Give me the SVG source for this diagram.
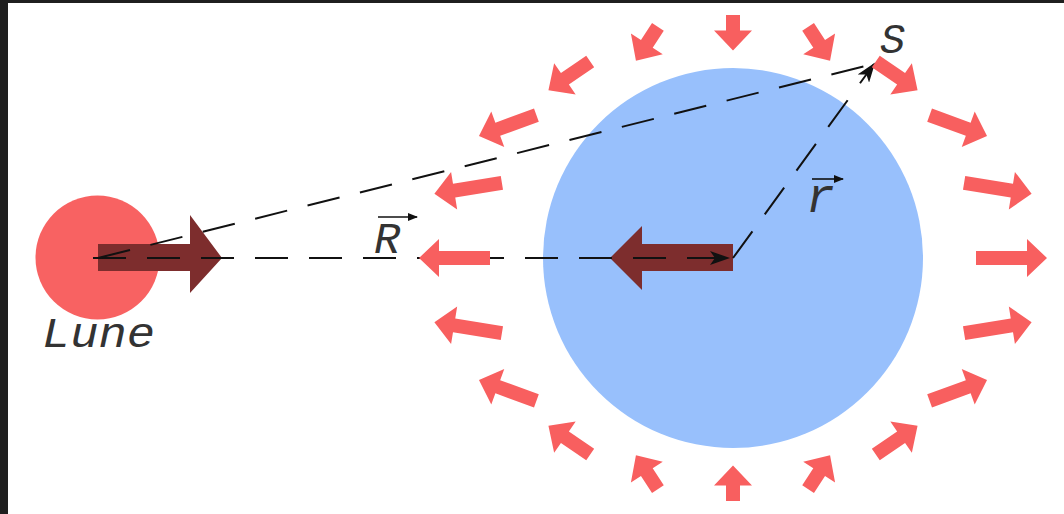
<svg xmlns="http://www.w3.org/2000/svg" width="1064" height="514" viewBox="0 0 1064 514">
<style>
.tide{fill:#F85F5F}
.big{fill:#7D2D2D}
.dash{fill:none;stroke:#111;stroke-width:2;stroke-dasharray:33 21}
.vec{fill:none;stroke:#111;stroke-width:1.6}
.lbl{font-family:"Liberation Mono",monospace;font-style:italic;fill:#333}
</style>
<defs>
<marker id="tip" markerUnits="userSpaceOnUse" markerWidth="20" markerHeight="14" refX="18" refY="7" orient="auto" viewBox="0 0 20 14">
<path d="M0,0 L20,7 L0,14 L5,7 Z" fill="#111"/>
</marker>
<marker id="vtip" markerUnits="userSpaceOnUse" markerWidth="10" markerHeight="8" refX="9" refY="4" orient="auto" viewBox="0 0 10 8">
<path d="M0,0 L10,4 L0,8 Z" fill="#111"/>
</marker>
</defs>
<rect x="0" y="0" width="1064" height="514" fill="#1F1F1F"/>
<rect x="8" y="3" width="1056" height="511" fill="#FFFFFF"/>

<g id="earth"><circle cx="733" cy="258" r="190" fill="#98C0FC"/></g>
<g id="moon"><circle cx="97.5" cy="257.5" r="62" fill="#F86262"/></g>

<g id="force-arrows" class="big">
<path id="moon-force" d="M98,244 H190 V215 L222,258 L190,293 V271 H98 Z"/>
<path id="earth-force" d="M733,244 H642 V226 L610,258 L642,290 V271 H733 Z"/>
</g>

<g id="connectors">
<line class="dash" x1="93" y1="258" x2="728" y2="258" marker-end="url(#tip)"/>
<line class="dash" x1="98" y1="258" x2="873" y2="64"/>
<line class="dash" x1="733" y1="258" x2="874" y2="64" marker-end="url(#tip)"/>
</g>

<g id="tidal-arrows" class="tide">
<path transform="translate(976,258) rotate(0)" d="M0,-7 H51 V-19 L71,0 L51,19 V7 H0 Z"/>
<path transform="translate(964.1,333.1) rotate(-9.23)" d="M0,-7 H48.4 V-19 L68.4,0 L48.4,19 V7 H0 Z"/>
<path transform="translate(929.6,400.8) rotate(-19.97)" d="M0,-7 H41.1 V-19 L61.1,0 L41.1,19 V7 H0 Z"/>
<path transform="translate(875.8,454.6) rotate(-34.54)" d="M0,-7 H30.7 V-19 L50.7,0 L30.7,19 V7 H0 Z"/>
<path transform="translate(808.1,489.1) rotate(-56.99)" d="M0,-7 H20.3 V-19 L40.3,0 L20.3,19 V7 H0 Z"/>
<path transform="translate(733,501) rotate(-90)" d="M0,-7 H15.5 V-19 L35.5,0 L15.5,19 V7 H0 Z"/>
<path transform="translate(657.9,489.1) rotate(-123.01)" d="M0,-7 H20.3 V-19 L40.3,0 L20.3,19 V7 H0 Z"/>
<path transform="translate(590.2,454.6) rotate(-145.46)" d="M0,-7 H30.7 V-19 L50.7,0 L30.7,19 V7 H0 Z"/>
<path transform="translate(536.4,400.8) rotate(-160.03)" d="M0,-7 H41.1 V-19 L61.1,0 L41.1,19 V7 H0 Z"/>
<path transform="translate(501.9,333.1) rotate(-170.77)" d="M0,-7 H48.4 V-19 L68.4,0 L48.4,19 V7 H0 Z"/>
<path transform="translate(490,258) rotate(180)" d="M0,-7 H51 V-19 L71,0 L51,19 V7 H0 Z"/>
<path transform="translate(501.9,182.9) rotate(170.77)" d="M0,-7 H48.4 V-19 L68.4,0 L48.4,19 V7 H0 Z"/>
<path transform="translate(536.4,115.2) rotate(160.03)" d="M0,-7 H41.1 V-19 L61.1,0 L41.1,19 V7 H0 Z"/>
<path transform="translate(590.2,61.4) rotate(145.46)" d="M0,-7 H30.7 V-19 L50.7,0 L30.7,19 V7 H0 Z"/>
<path transform="translate(657.9,26.9) rotate(123.01)" d="M0,-7 H20.3 V-19 L40.3,0 L20.3,19 V7 H0 Z"/>
<path transform="translate(733,15) rotate(90)" d="M0,-7 H15.5 V-19 L35.5,0 L15.5,19 V7 H0 Z"/>
<path transform="translate(808.1,26.9) rotate(56.99)" d="M0,-7 H20.3 V-19 L40.3,0 L20.3,19 V7 H0 Z"/>
<path transform="translate(875.8,61.4) rotate(34.54)" d="M0,-7 H30.7 V-19 L50.7,0 L30.7,19 V7 H0 Z"/>
<path transform="translate(929.6,115.2) rotate(19.97)" d="M0,-7 H41.1 V-19 L61.1,0 L41.1,19 V7 H0 Z"/>
<path transform="translate(964.1,182.9) rotate(9.23)" d="M0,-7 H48.4 V-19 L68.4,0 L48.4,19 V7 H0 Z"/>
</g>

<g id="labels">
<text class="lbl" x="42" y="347" font-size="42" textLength="113" lengthAdjust="spacingAndGlyphs">Lune</text>
<text class="lbl" x="880" y="53" font-size="42">S</text>
<text class="lbl" x="374" y="253" font-size="44">R</text>
<line class="vec" x1="378" y1="217" x2="417" y2="217" marker-end="url(#vtip)"/>
<text class="lbl" x="806" y="212" font-size="48">r</text>
<line class="vec" x1="812" y1="179" x2="843" y2="179" marker-end="url(#vtip)"/>
</g>
</svg>
